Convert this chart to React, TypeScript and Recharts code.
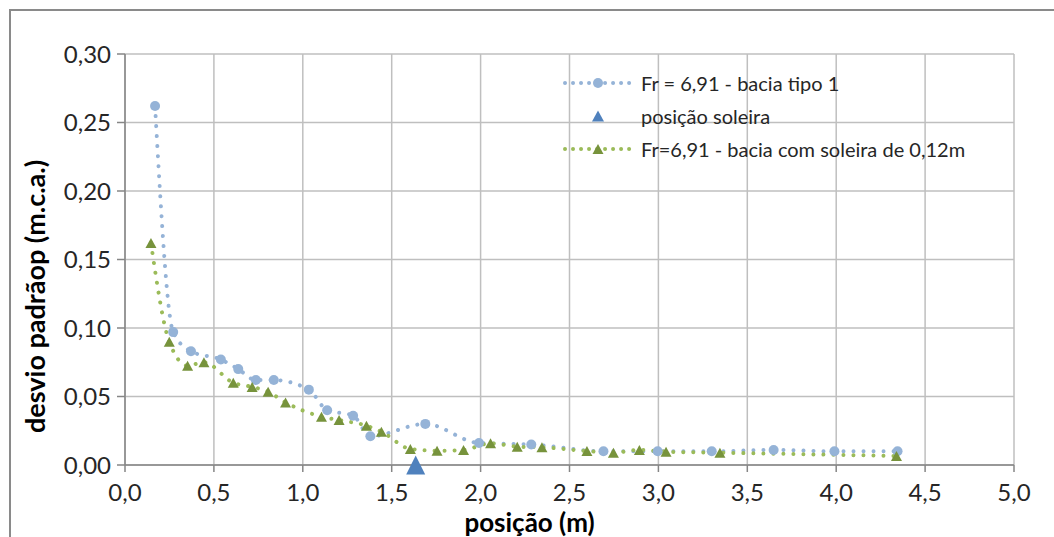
import React from "react";
import {
  LineChart,
  Line,
  XAxis,
  YAxis,
  CartesianGrid,
} from "recharts";

const tipo1X = [0.169, 0.271, 0.371, 0.539, 0.637, 0.736, 0.837, 1.034, 1.137, 1.283, 1.38, 1.689, 1.991, 2.285, 2.691, 2.996, 3.3, 3.648, 3.99, 4.345];
const tipo1Y = [0.262, 0.097, 0.083, 0.077, 0.07, 0.062, 0.062, 0.055, 0.04, 0.036, 0.021, 0.03, 0.016, 0.015, 0.01, 0.01, 0.01, 0.011, 0.01, 0.01];

const soleiraX = [0.146, 0.249, 0.352, 0.444, 0.609, 0.715, 0.805, 0.903, 1.105, 1.204, 1.358, 1.442, 1.605, 1.755, 1.904, 2.056, 2.206, 2.345, 2.598, 2.747, 2.893, 3.043, 3.346, 4.339];
const soleiraY = [0.162, 0.09, 0.0725, 0.075, 0.06, 0.057, 0.0535, 0.0457, 0.0353, 0.0328, 0.0287, 0.0243, 0.0117, 0.0104, 0.011, 0.0158, 0.0134, 0.0129, 0.0102, 0.009, 0.011, 0.0097, 0.009, 0.0066];

const posicaoSoleiraX = [1.635];
const posicaoSoleiraY = [0];

const xTicks = [0, 0.5, 1, 1.5, 2, 2.5, 3, 3.5, 4, 4.5, 5];
const yTicks = [0, 0.05, 0.1, 0.15, 0.2, 0.25, 0.3];

const names = [
  "Fr = 6,91 - bacia tipo 1",
  "posição soleira",
  "Fr=6,91 - bacia com soleira de 0,12m",
];

const BLUE = "#95B3D7";
const GREEN_LINE = "#9BBB59";
const GREEN = "#77933C";
const DARK_BLUE = "#4F81BD";
const FONT = "Lato, 'Open Sans', sans-serif";

const tipo1 = tipo1X.map((x, i) => ({ x, y: tipo1Y[i] }));
const soleira = soleiraX.map((x, i) => ({ x, y: soleiraY[i] }));
const posicao = posicaoSoleiraX.map((x, i) => ({ x, y: posicaoSoleiraY[i] }));

const tri = (cx: number, cy: number, w: number, h: number) =>
  `M${cx},${cy - h / 2} L${cx + w / 2},${cy + h / 2} L${cx - w / 2},${cy + h / 2} Z`;

const circleDot = (p: any) => (
  <circle key={`c${p.index}`} cx={p.cx} cy={p.cy} r={5} fill={BLUE} />
);
const greenDot = (p: any) => (
  <path key={`g${p.index}`} d={tri(p.cx, p.cy, 11, 10)} fill={GREEN} />
);
const bigDot = (p: any) => (
  <path key={`b${p.index}`} d={tri(p.cx, p.cy, 19, 19)} fill={DARK_BLUE} />
);

const fmt = (d: number) => (v: number) => v.toFixed(d).replace(".", ",");

const LegendRow = ({ kind, label }: { kind: number; label: string }) => (
  <div style={{ display: "flex", alignItems: "center", height: 33 }}>
    <svg width={72} height={20}>
      {kind !== 1 && (
        <line
          x1={3}
          y1={10}
          x2={68}
          y2={10}
          stroke={kind === 0 ? BLUE : GREEN_LINE}
          strokeWidth={4}
          strokeDasharray="0.01 8"
          strokeLinecap="round"
        />
      )}
      {kind === 0 && <circle cx={36} cy={10} r={5} fill={BLUE} />}
      {kind === 1 && <path d={tri(36, 10, 12, 11)} fill={DARK_BLUE} />}
      {kind === 2 && <path d={tri(36, 10, 11, 10)} fill={GREEN} />}
    </svg>
    <span style={{ marginLeft: 7, fontSize: 20, color: "#262626" }}>{label}</span>
  </div>
);

export default function App() {
  return (
    <div
      style={{
        position: "absolute",
        left: 0,
        top: 0,
        width: 1054,
        height: 537,
        background: "#fff",
        overflow: "hidden",
        fontFamily: FONT,
      }}
    >
      <div
        style={{
          position: "absolute",
          left: 9,
          top: 9,
          width: 1100,
          height: 600,
          border: "2px solid #8a8a8a",
        }}
      />
      <LineChart
        width={1054}
        height={537}
        margin={{ top: 54, right: 40, bottom: 20, left: 15 }}
        style={{ position: "absolute", left: 0, top: 0 }}
      >
        <CartesianGrid stroke="#BFBFBF" strokeWidth={1.5} />
        <XAxis
          type="number"
          dataKey="x"
          domain={[0, 5]}
          ticks={xTicks}
          tickFormatter={fmt(1)}
          height={52}
          tickSize={7}
          stroke="#868686"
          strokeWidth={1.5}
          tick={{ fill: "#262626", fontSize: 24, fontFamily: FONT, dy: 10 }}
          label={{
            value: "posição (m)",
            position: "insideBottom",
            offset: -15,
            dx: -40,
            style: { fontWeight: 700, fontSize: 26, fill: "#000", fontFamily: FONT },
          }}
        />
        <YAxis
          type="number"
          domain={[0, 0.3]}
          ticks={yTicks}
          tickFormatter={fmt(2)}
          width={110}
          tickSize={8}
          stroke="#868686"
          strokeWidth={1.5}
          tick={{ fill: "#262626", fontSize: 24, fontFamily: FONT, dx: -4 }}
          label={{
            value: "desvio padrãop (m.c.a.)",
            angle: -90,
            position: "insideLeft",
            offset: 20,
            dy: 37,
            style: { textAnchor: "middle", fontWeight: 700, fontSize: 27, fill: "#000", fontFamily: FONT },
          }}
        />
        <Line
          data={tipo1}
          dataKey="y"
          name={names[0]}
          type="monotone"
          stroke={BLUE}
          strokeWidth={4}
          strokeDasharray="0.01 10"
          strokeLinecap="round"
          dot={circleDot}
          activeDot={false}
          isAnimationActive={false}
        />
        <Line
          data={soleira}
          dataKey="y"
          name={names[2]}
          type="monotone"
          stroke={GREEN_LINE}
          strokeWidth={4}
          strokeDasharray="0.01 10"
          strokeLinecap="round"
          dot={greenDot}
          activeDot={false}
          isAnimationActive={false}
        />
        <Line
          data={posicao}
          dataKey="y"
          name={names[1]}
          stroke="none"
          dot={bigDot}
          activeDot={false}
          isAnimationActive={false}
        />
      </LineChart>
      <div style={{ position: "absolute", left: 562, top: 66 }}>
        {names.map((n, i) => (
          <LegendRow key={n} kind={i} label={n} />
        ))}
      </div>
    </div>
  );
}
